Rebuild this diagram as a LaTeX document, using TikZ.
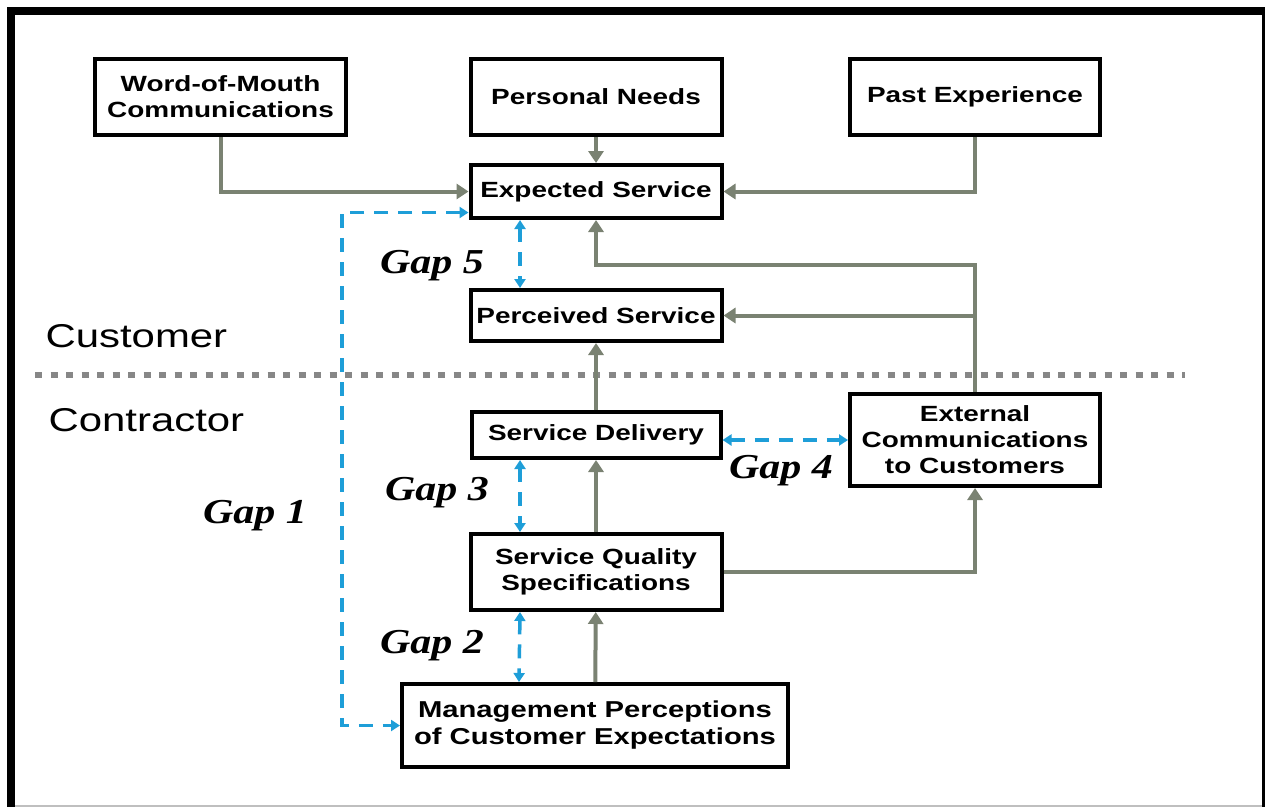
\documentclass[tikz,border=0pt]{standalone}
\usepackage{fontspec}
\newfontfamily\boxfont{Liberation Sans}[FakeStretch=1.27]
\newfontfamily\gapfont{Liberation Serif}[FakeStretch=1.2]
\usetikzlibrary{arrows.meta}
\definecolor{flowgray}{RGB}{122,130,114}
\definecolor{gapblue}{RGB}{30,158,216}
\definecolor{divgray}{RGB}{135,135,135}

\begin{document}
\begin{tikzpicture}[x=1pt, y=-1pt,
	box/.style={draw, line width=4pt, align=center, inner sep=0pt,
		font=\boxfont\bfseries\fontsize{22}{26}\selectfont},
	flow/.style={flowgray, line width=4pt, -{Triangle[length=12pt,width=15pt]}},
	gap/.style={gapblue, line width=3.5pt, dash pattern=on 14pt off 10pt,
		{Triangle[length=9pt,width=11pt]}-{Triangle[length=9pt,width=11pt]}},
	gaplabel/.style={anchor=base, font=\gapfont\bfseries\itshape\fontsize{35}{40}\selectfont},
	side/.style={anchor=base west, font=\boxfont\fontsize{33}{36}\selectfont}]
	\useasboundingbox (0,0) rectangle (1265,807);

	%% Rahmen
	\fill[white] (0,0) rectangle (1265,807);
	\fill (7,7) rectangle (15,807);
	\fill (7,7) rectangle (1265,15);
	\fill (1262,7) rectangle (1265,807);
	\fill[black!25] (15,805) rectangle (1262,807);

	%% Trennlinie Kunde / Anbieter
	\draw[divgray, line width=6pt, dash pattern=on 7pt off 8.5pt] (35,375) -- (1185,375);
	\node[side] (customer) at (42,347) {Customer};
	\node[side] (contractor) at (45,431) {Contractor};

	%%%%%%%%%%%%%%%%

	%% Kundenseite
	\node[box, minimum width=251pt, minimum height=76pt] (wom) at (220.5,97) {Word-of-Mouth\\Communications};
	\node[box, minimum width=251pt, minimum height=76pt] (needs) at (596,97) {Personal Needs};
	\node[box, minimum width=250pt, minimum height=76pt] (past) at (975,97) {Past Experience};
	\node[box, minimum width=251pt, minimum height=53pt] (expected) at (596,191.5) {Expected Service};
	\node[box, minimum width=251pt, minimum height=51pt] (perceived) at (596,315.5) {Perceived Service};

	%% Anbieterseite
	\node[box, minimum width=249pt, minimum height=46pt] (delivery) at (596,435) {Service Delivery};
	\node[box, minimum width=250pt, minimum height=92pt] (external) at (975,440) {External\\Communications\\to Customers};
	\node[box, minimum width=251pt, minimum height=76pt] (spec) at (596,572) {Service Quality\\Specifications};
	\node[box, minimum width=386pt, minimum height=83pt, font=\boxfont\bfseries\fontsize{23}{27}\selectfont]
		(mgmt) at (595,725.5) {Management Perceptions\\of Customer Expectations};

	%%%%%%%%%%%%%%%%

	%% Pfeile
	\draw[flow] (wom.south) |- (expected.west);
	\draw[flow] (needs) -- (expected);
	\draw[flow] (past.south) |- (expected.east);
	\coordinate (feedback) at (975,265);
	\draw[flow] (external.north) -- (feedback) -| (expected.south);
	\draw[flow] (external.north |- perceived.east) -- (perceived.east);
	\draw[flow] (delivery) -- (perceived);
	\draw[flow] (spec) -- (delivery);
	\draw[flow] (mgmt) -- (spec);
	\draw[flow] (spec.east) -| (external.south);

	%% Luecken
	\coordinate (loop) at (342,0);
	\draw[gap] ([yshift=-21pt]expected.west) -| (loop |- mgmt.west) -- (mgmt.west);
	\draw[gap] ([xshift=-76pt]expected.south) -- ([xshift=-76pt]perceived.north);
	\draw[gap] ([xshift=-76pt]delivery.south) -- ([xshift=-76pt]spec.north);
	\draw[gap] ([xshift=-76pt]spec.south) -- ([xshift=-76pt]mgmt.north);
	\draw[gap] (delivery.east |- external.west) -- (external.west);

	\node[gaplabel] (gap1) at (255,523) {Gap 1};
	\node[gaplabel] (gap2) at (432,653) {Gap 2};
	\node[gaplabel] (gap3) at (437,500) {Gap 3};
	\node[gaplabel] (gap4) at (781,478) {Gap 4};
	\node[gaplabel] (gap5) at (432,273) {Gap 5};
\end{tikzpicture}
\end{document}
